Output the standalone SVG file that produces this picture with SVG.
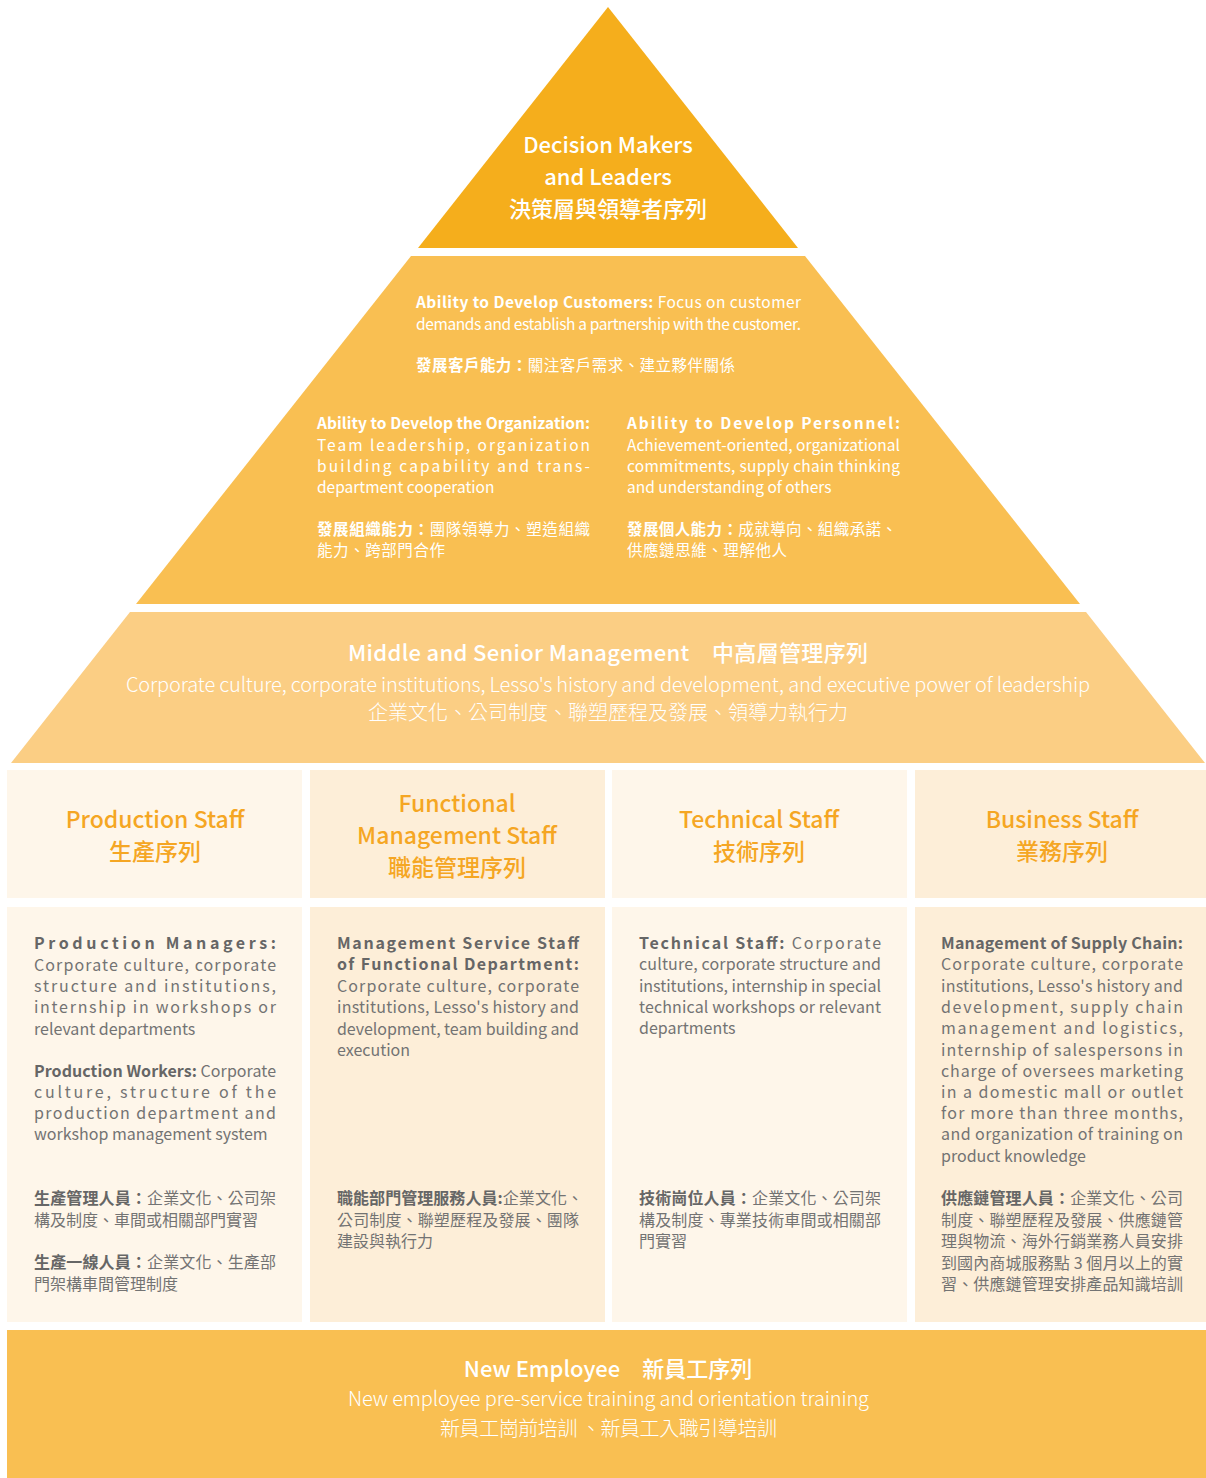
<svg xmlns="http://www.w3.org/2000/svg" width="1206" height="1478" viewBox="0 0 1206 1478">
<style>
text{font-family:"Noto Sans CJK TC","Noto Sans",sans-serif;}
.w{fill:#ffffff;}
.t1{font-size:22px;font-weight:500;text-anchor:middle;}
.t2{font-size:15.5px;}
.t3h{font-size:22px;font-weight:500;}
.t3{font-size:20px;font-weight:300;}
.b{font-weight:700;}
.hd{fill:#F5A623;font-size:23px;font-weight:500;text-anchor:middle;}
.bd{fill:#737373;font-size:16px;}
.bb{font-weight:700;fill:#666666;}
.c1{fill:#FEF6EA;}
.c2{fill:#FDEED8;}
</style>
<rect width="1206" height="1478" fill="#ffffff"/>

<g id="tier-leaders">
<polygon points="608,7 798,248 418,248" fill="#F5AE1C"/>
<text class="w t1" x="608" y="153">Decision Makers</text>
<text class="w t1" x="608" y="185">and Leaders</text>
<text class="w t1" x="608" y="217">決策層與領導者序列</text>
</g>

<g id="tier-abilities">
<polygon points="411,256 805,256 1080,604 136,604" fill="#F9BF52"/>
<text class="w t2" x="416" y="308" textLength="385" lengthAdjust="spacing"><tspan class="b">Ability to Develop Customers:</tspan> Focus on customer</text>
<text class="w t2" x="416" y="330" textLength="385" lengthAdjust="spacing">demands and establish a partnership with the customer.</text>
<text class="w t2" x="416" y="371" textLength="319" lengthAdjust="spacing"><tspan class="b">發展客戶能力：</tspan>關注客戶需求、建立夥伴關係</text>

<text class="w t2" x="317" y="429" textLength="273" lengthAdjust="spacing"><tspan class="b">Ability to Develop the Organization:</tspan></text>
<text class="w t2" x="317" y="451" textLength="273" lengthAdjust="spacing">Team leadership, organization</text>
<text class="w t2" x="317" y="472" textLength="273" lengthAdjust="spacing">building capability and trans-</text>
<text class="w t2" x="317" y="493">department cooperation</text>
<text class="w t2" x="317" y="535" textLength="273" lengthAdjust="spacing"><tspan class="b">發展組織能力：</tspan>團隊領導力、塑造組織</text>
<text class="w t2" x="317" y="556" textLength="128" lengthAdjust="spacing">能力、跨部門合作</text>

<text class="w t2" x="627" y="429" textLength="273" lengthAdjust="spacing"><tspan class="b">Ability to Develop Personnel:</tspan></text>
<text class="w t2" x="627" y="451" textLength="273" lengthAdjust="spacing">Achievement-oriented, organizational</text>
<text class="w t2" x="627" y="472" textLength="273" lengthAdjust="spacing">commitments, supply chain thinking</text>
<text class="w t2" x="627" y="493">and understanding of others</text>
<text class="w t2" x="627" y="535" textLength="270" lengthAdjust="spacing"><tspan class="b">發展個人能力：</tspan>成就導向、組織承諾、</text>
<text class="w t2" x="627" y="556" textLength="160" lengthAdjust="spacing">供應鏈思維、理解他人</text>
</g>

<g id="tier-management">
<polygon points="130,612 1086,612 1205,763 11,763" fill="#FBCE84"/>
<text class="w t3h" x="348" y="661" textLength="520" lengthAdjust="spacing">Middle and Senior Management　中高層管理序列</text>
<text class="w t3" x="126" y="692" textLength="964" lengthAdjust="spacing">Corporate culture, corporate institutions, Lesso's history and development, and executive power of leadership</text>
<text class="w t3" x="608" y="720" text-anchor="middle">企業文化、公司制度、聯塑歷程及發展、領導力執行力</text>
</g>

<g id="col-production">
<rect class="c1" x="7" y="770" width="295" height="128"/>
<text class="hd" x="155" y="828">Production Staff</text>
<text class="hd" x="155" y="860">生產序列</text>
<rect class="c1" x="7" y="907" width="295" height="415"/>
<text class="bd" x="34" y="949" textLength="242" lengthAdjust="spacing"><tspan class="bb">Production Managers:</tspan></text>
<text class="bd" x="34" y="971" textLength="242" lengthAdjust="spacing">Corporate culture, corporate</text>
<text class="bd" x="34" y="992" textLength="242" lengthAdjust="spacing">structure and institutions,</text>
<text class="bd" x="34" y="1013" textLength="242" lengthAdjust="spacing">internship in workshops or</text>
<text class="bd" x="34" y="1035">relevant departments</text>
<text class="bd" x="34" y="1077" textLength="242" lengthAdjust="spacing"><tspan class="bb">Production Workers:</tspan> Corporate</text>
<text class="bd" x="34" y="1098" textLength="242" lengthAdjust="spacing">culture, structure of the</text>
<text class="bd" x="34" y="1119" textLength="242" lengthAdjust="spacing">production department and</text>
<text class="bd" x="34" y="1140">workshop management system</text>
<text class="bd" x="34" y="1204" textLength="242" lengthAdjust="spacing"><tspan class="bb">生產管理人員：</tspan>企業文化、公司架</text>
<text class="bd" x="34" y="1226">構及制度、車間或相關部門實習</text>
<text class="bd" x="34" y="1268" textLength="242" lengthAdjust="spacing"><tspan class="bb">生產一線人員：</tspan>企業文化、生產部</text>
<text class="bd" x="34" y="1290">門架構車間管理制度</text>
</g>

<g id="col-functional">
<rect class="c2" x="310" y="770" width="295" height="128"/>
<text class="hd" x="457" y="812">Functional</text>
<text class="hd" x="457" y="844">Management Staff</text>
<text class="hd" x="457" y="876">職能管理序列</text>
<rect class="c2" x="310" y="907" width="295" height="415"/>
<text class="bd" x="337" y="949" textLength="242" lengthAdjust="spacing"><tspan class="bb">Management Service Staff</tspan></text>
<text class="bd" x="337" y="970" textLength="242" lengthAdjust="spacing"><tspan class="bb">of Functional Department:</tspan></text>
<text class="bd" x="337" y="992" textLength="242" lengthAdjust="spacing">Corporate culture, corporate</text>
<text class="bd" x="337" y="1013" textLength="242" lengthAdjust="spacing">institutions, Lesso's history and</text>
<text class="bd" x="337" y="1035" textLength="242" lengthAdjust="spacing">development, team building and</text>
<text class="bd" x="337" y="1056">execution</text>
<text class="bd" x="337" y="1204" textLength="246" lengthAdjust="spacing"><tspan class="bb">職能部門管理服務人員:</tspan>企業文化、</text>
<text class="bd" x="337" y="1226" textLength="242" lengthAdjust="spacing">公司制度、聯塑歷程及發展、團隊</text>
<text class="bd" x="337" y="1247">建設與執行力</text>
</g>

<g id="col-technical">
<rect class="c1" x="612" y="770" width="295" height="128"/>
<text class="hd" x="759" y="828">Technical Staff</text>
<text class="hd" x="759" y="860">技術序列</text>
<rect class="c1" x="612" y="907" width="295" height="415"/>
<text class="bd" x="639" y="949" textLength="242" lengthAdjust="spacing"><tspan class="bb">Technical Staff:</tspan> Corporate</text>
<text class="bd" x="639" y="970" textLength="242" lengthAdjust="spacing">culture, corporate structure and</text>
<text class="bd" x="639" y="992" textLength="242" lengthAdjust="spacing">institutions, internship in special</text>
<text class="bd" x="639" y="1013" textLength="242" lengthAdjust="spacing">technical workshops or relevant</text>
<text class="bd" x="639" y="1034">departments</text>
<text class="bd" x="639" y="1204" textLength="242" lengthAdjust="spacing"><tspan class="bb">技術崗位人員：</tspan>企業文化、公司架</text>
<text class="bd" x="639" y="1226" textLength="242" lengthAdjust="spacing">構及制度、專業技術車間或相關部</text>
<text class="bd" x="639" y="1247">門實習</text>
</g>

<g id="col-business">
<rect class="c2" x="915" y="770" width="291" height="128"/>
<text class="hd" x="1062" y="828">Business Staff</text>
<text class="hd" x="1062" y="860">業務序列</text>
<rect class="c2" x="915" y="907" width="291" height="415"/>
<text class="bd" x="941" y="949" textLength="242" lengthAdjust="spacing"><tspan class="bb">Management of Supply Chain:</tspan></text>
<text class="bd" x="941" y="970" textLength="242" lengthAdjust="spacing">Corporate culture, corporate</text>
<text class="bd" x="941" y="992" textLength="242" lengthAdjust="spacing">institutions, Lesso's history and</text>
<text class="bd" x="941" y="1013" textLength="242" lengthAdjust="spacing">development, supply chain</text>
<text class="bd" x="941" y="1034" textLength="242" lengthAdjust="spacing">management and logistics,</text>
<text class="bd" x="941" y="1056" textLength="242" lengthAdjust="spacing">internship of salespersons in</text>
<text class="bd" x="941" y="1077" textLength="242" lengthAdjust="spacing">charge of oversees marketing</text>
<text class="bd" x="941" y="1098" textLength="242" lengthAdjust="spacing">in a domestic mall or outlet</text>
<text class="bd" x="941" y="1119" textLength="242" lengthAdjust="spacing">for more than three months,</text>
<text class="bd" x="941" y="1140" textLength="242" lengthAdjust="spacing">and organization of training on</text>
<text class="bd" x="941" y="1162">product knowledge</text>
<text class="bd" x="941" y="1204" textLength="242" lengthAdjust="spacing"><tspan class="bb">供應鏈管理人員：</tspan>企業文化、公司</text>
<text class="bd" x="941" y="1226" textLength="242" lengthAdjust="spacing">制度、聯塑歷程及發展、供應鏈管</text>
<text class="bd" x="941" y="1247" textLength="242" lengthAdjust="spacing">理與物流、海外行銷業務人員安排</text>
<text class="bd" x="941" y="1269" textLength="242" lengthAdjust="spacing">到國內商城服務點 3 個月以上的實</text>
<text class="bd" x="941" y="1290" textLength="242" lengthAdjust="spacing">習、供應鏈管理安排產品知識培訓</text>
</g>

<g id="tier-new-employee">
<rect x="7" y="1330" width="1199" height="148" fill="#F9BF52"/>
<text class="w t3h" x="608" y="1377" text-anchor="middle">New Employee　新員工序列</text>
<text class="w t3" x="348" y="1406" textLength="521" lengthAdjust="spacing">New employee pre-service training and orientation training</text>
<text class="w t3" x="440" y="1436" textLength="337" lengthAdjust="spacing">新員工崗前培訓 、新員工入職引導培訓</text>
</g>

<g id="connectors"></g>
</svg>
